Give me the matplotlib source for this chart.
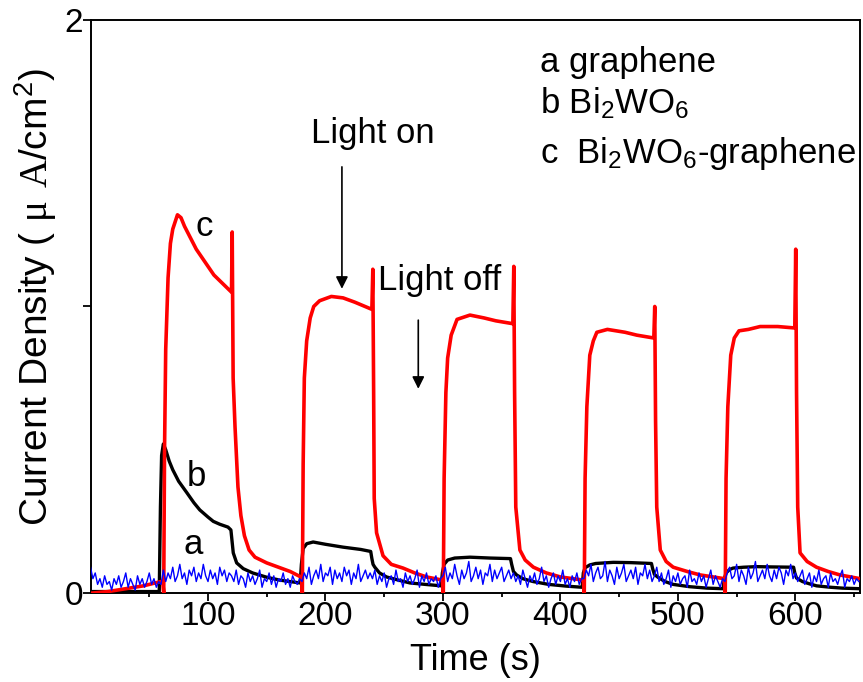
import numpy as np
import matplotlib
matplotlib.use('Agg')
import matplotlib.pyplot as plt

plt.rcParams['font.family'] = ['Liberation Sans', 'DejaVu Sans']
plt.rcParams['mathtext.fontset'] = 'custom'
plt.rcParams['mathtext.rm'] = 'Liberation Serif'
plt.rcParams['mathtext.default'] = 'regular'

# curve c: Bi2WO6-graphene (time s, current density)
red_t = [2, 15, 30, 45, 60, 61.5, 62.3, 63, 64, 66, 68, 70, 74, 77, 80, 85, 90, 95, 100, 105, 110, 115, 120,
         120.6, 121.4, 123, 125.5, 128, 131, 135, 140, 150, 160, 170, 179.5,
         180.3, 181, 182, 184, 187, 190, 195, 205, 215, 225, 239.5,
         240.3, 241, 241.5, 243.5, 249, 256, 266, 276, 286, 299.5,
         300.3, 301, 302.5, 304, 307, 312, 323, 335, 345, 359.5,
         360.3, 361, 362, 365.5, 370, 377, 388, 400, 419.5,
         420.3, 421, 422.5, 425, 428, 431, 440, 455, 465, 479.5,
         480.3, 481, 482, 485, 490, 496, 508, 519, 539.5,
         540.3, 541, 542.5, 545, 548, 552, 560, 570, 585, 599.5,
         600.3, 601, 602, 604, 610, 618, 628, 638, 655]
red_v = [0.0, 0.005, 0.015, 0.025, 0.04, 0.04, 0.0, 0.5, 0.85, 1.1, 1.22, 1.27, 1.32, 1.31, 1.28, 1.24, 1.2, 1.17, 1.14, 1.11, 1.09, 1.07, 1.05,
         1.26, 0.75, 0.58, 0.37, 0.27, 0.2, 0.15, 0.125, 0.105, 0.09, 0.075, 0.055,
         0.0, 0.45, 0.75, 0.88, 0.96, 1.0, 1.02, 1.035, 1.03, 1.015, 0.99,
         1.13, 0.7, 0.33, 0.21, 0.13, 0.1, 0.087, 0.07, 0.056, 0.045,
         0.0, 0.4, 0.7, 0.82, 0.9, 0.955, 0.97, 0.96, 0.95, 0.94,
         1.14, 0.7, 0.3, 0.15, 0.115, 0.09, 0.07, 0.056, 0.045,
         0.0, 0.4, 0.65, 0.83, 0.88, 0.91, 0.92, 0.91, 0.9, 0.89,
         1.0, 0.6, 0.3, 0.15, 0.11, 0.09, 0.075, 0.063, 0.05,
         0.0, 0.4, 0.65, 0.83, 0.89, 0.915, 0.92, 0.93, 0.93, 0.925,
         1.2, 0.7, 0.3, 0.14, 0.11, 0.09, 0.075, 0.063, 0.05]

# curve b: Bi2WO6
black_t = [0, 58.5, 59.5, 60.5, 62, 64, 67, 70, 75, 82, 88, 93, 100, 104.5, 110, 117, 119.5,
           120.5, 121.5, 124.4, 130, 138, 150, 161, 178.5,
           179.5, 181, 184, 189.5, 200, 215, 230, 238.5,
           239.5, 240.5, 242, 246, 252, 262, 272, 285, 298.5,
           299.5, 301, 304, 310, 323, 340, 357.5,
           358.5, 360, 362.7, 368, 376.7, 390, 405, 418.5,
           419.5, 421, 425, 430, 445, 460, 477.5,
           478.5, 480, 483, 489, 496, 510, 525, 538.5,
           539.5, 541, 544, 547, 556, 567, 580, 598.5,
           599.5, 601, 606, 612, 618, 630, 640, 655]
black_v = [0.005, 0.005, 0.3, 0.48, 0.52, 0.5, 0.46, 0.43, 0.39, 0.35, 0.315, 0.29, 0.265, 0.25, 0.24, 0.23, 0.22,
           0.18, 0.14, 0.105, 0.085, 0.07, 0.055, 0.045, 0.035,
           0.1, 0.155, 0.172, 0.178, 0.17, 0.16, 0.152, 0.145,
           0.12, 0.1, 0.09, 0.07, 0.056, 0.045, 0.035, 0.03, 0.025,
           0.07, 0.1, 0.115, 0.122, 0.125, 0.122, 0.12,
           0.1, 0.075, 0.063, 0.05, 0.04, 0.03, 0.024, 0.02,
           0.07, 0.088, 0.098, 0.103, 0.107, 0.106, 0.103,
           0.085, 0.065, 0.055, 0.04, 0.03, 0.022, 0.017, 0.015,
           0.05, 0.07, 0.082, 0.087, 0.09, 0.092, 0.091, 0.09,
           0.07, 0.052, 0.04, 0.032, 0.025, 0.02, 0.017, 0.015]

# curve a: graphene, sampled every 2 s
blue_step = 2
blue_v = [0.09, 0.05, 0.07, 0.03, 0.05, 0.02, 0.06, 0.03, 0.04, 0.01, 0.05, 0.03, 0.06, 0.02, 0.04, 0.07, 0.02, 0.05, 0.03, 0.01, 0.06, 0.03, 0.05, 0.02, 0.04, 0.07, 0.03, 0.05, 0.02, 0.04,
          0.03, 0.08, 0.04, 0.07, 0.05, 0.09, 0.04, 0.06, 0.10, 0.05, 0.07, 0.03, 0.08, 0.06, 0.09, 0.04, 0.07, 0.05, 0.10, 0.06, 0.04, 0.08, 0.05, 0.07, 0.03, 0.09, 0.06, 0.08, 0.04, 0.07,
          0.06, 0.04, 0.08, 0.03, 0.06, 0.05, 0.02, 0.07, 0.04, 0.06, 0.03, 0.05, 0.08, 0.02, 0.05, 0.04, 0.07, 0.03, 0.06, 0.02, 0.05, 0.04, 0.07, 0.03, 0.05, 0.02, 0.06, 0.04, 0.03, 0.05,
          0.04, 0.07, 0.05, 0.09, 0.03, 0.06, 0.08, 0.05, 0.10, 0.04, 0.07, 0.06, 0.09, 0.03, 0.08, 0.05, 0.07, 0.04, 0.09, 0.06, 0.08, 0.03, 0.07, 0.05, 0.10, 0.04, 0.06, 0.08, 0.05, 0.07,
          0.05, 0.08, 0.03, 0.06, 0.04, 0.07, 0.02, 0.05, 0.06, 0.03, 0.08, 0.04, 0.05, 0.02, 0.07, 0.04, 0.06, 0.03, 0.05, 0.08, 0.02, 0.06, 0.04, 0.07, 0.03, 0.05, 0.04, 0.06, 0.02, 0.05,
          0.06, 0.09, 0.04, 0.07, 0.05, 0.10, 0.06, 0.03, 0.08, 0.05, 0.07, 0.11, 0.04, 0.06, 0.09, 0.05, 0.08, 0.03, 0.07, 0.06, 0.10, 0.04, 0.08, 0.05, 0.07, 0.09, 0.04, 0.06, 0.08, 0.05,
          0.07, 0.04, 0.06, 0.03, 0.08, 0.05, 0.02, 0.06, 0.04, 0.07, 0.03, 0.05, 0.09, 0.04, 0.06, 0.02, 0.05, 0.07, 0.03, 0.06, 0.04, 0.08, 0.03, 0.05, 0.02, 0.06, 0.04, 0.07, 0.03, 0.05,
          0.05, 0.08, 0.06, 0.10, 0.04, 0.07, 0.09, 0.05, 0.06, 0.11, 0.04, 0.08, 0.06, 0.03, 0.09, 0.05, 0.07, 0.10, 0.04, 0.06, 0.08, 0.05, 0.09, 0.03, 0.07, 0.06, 0.10, 0.05, 0.08, 0.04,
          0.06, 0.09, 0.04, 0.07, 0.03, 0.05, 0.08, 0.02, 0.06, 0.04, 0.07, 0.03, 0.05, 0.06, 0.02, 0.08, 0.04, 0.05, 0.03, 0.07, 0.04, 0.06, 0.02, 0.05, 0.08, 0.03, 0.06, 0.04, 0.02, 0.05,
          0.04, 0.07, 0.09, 0.05, 0.06, 0.10, 0.04, 0.08, 0.06, 0.03, 0.09, 0.05, 0.07, 0.11, 0.04, 0.06, 0.08, 0.05, 0.10, 0.06, 0.04, 0.08, 0.05, 0.09, 0.07, 0.03, 0.08, 0.06, 0.10, 0.05,
          0.07, 0.04, 0.06, 0.08, 0.03, 0.05, 0.07, 0.02, 0.06, 0.04, 0.08, 0.03, 0.05, 0.06, 0.02, 0.07, 0.04, 0.05, 0.03, 0.06, 0.08, 0.02, 0.05, 0.04, 0.06, 0.03, 0.05, 0.04]
blue_t = np.arange(len(blue_v)) * blue_step

x_major = [100, 200, 300, 400, 500, 600]
x_minor = [50, 150, 250, 350, 450, 550, 650]
y_ticks = [0, 1, 2]
y_labels = ['0', '', '2']

fig = plt.figure(figsize=(8.63, 6.82), dpi=100)
ax = fig.add_axes([0.1049, 0.1305, 0.8916, 0.8402])

ax.plot(black_t, black_v, color='black', lw=2.4, zorder=2)
ax.plot(red_t, red_v, color='#ff0000', lw=2.6, zorder=3)
ax.plot(blue_t, blue_v, color='#0000ff', lw=1.0, zorder=4)

ax.set_xlim(0, 655)
ax.set_ylim(0, 2)
ax.set_xticks(x_major)
ax.set_xticks(x_minor, minor=True)
ax.set_yticks(y_ticks)
ax.set_yticklabels(y_labels)
ax.tick_params(which='major', direction='out', length=5.5, width=1.3, labelsize=24, pad=0)
ax.tick_params(which='minor', direction='out', length=3, width=1.3)
for s in ax.spines.values():
    s.set_linewidth(1.4)

ax.set_xlabel('Time (s)', fontsize=26, labelpad=8)
ax.set_ylabel(r'Current Density ( $\mathrm{\mu\ A}$/cm$^2$)', fontsize=28)
ax.yaxis.set_label_coords(-0.041, 0.517)

ax.text(97, 1.28, 'c', fontsize=25, ha='center', va='center')
ax.text(90, 0.405, 'b', fontsize=25, ha='center', va='center')
ax.text(87, 0.168, 'a', fontsize=25, ha='center', va='center')

ax.text(383, 1.818, 'a graphene', fontsize=25, ha='left', va='baseline')
ax.text(383, 1.675, 'b Bi$_2$WO$_6$', fontsize=25, ha='left', va='baseline')
ax.text(383, 1.50, 'c  Bi$_2$WO$_6$-graphene', fontsize=25, ha='left', va='baseline')

ax.text(240, 1.605, 'Light on', fontsize=25, ha='center', va='center')
ax.annotate('', xy=(214, 1.052), xytext=(214, 1.497),
            arrowprops=dict(arrowstyle='-|>', color='black', lw=1.2, mutation_scale=18))
ax.text(297, 1.09, 'Light off', fontsize=25, ha='center', va='center')
ax.annotate('', xy=(279, 0.703), xytext=(279, 0.962),
            arrowprops=dict(arrowstyle='-|>', color='black', lw=1.2, mutation_scale=18))

fig.savefig('out.png', dpi=100, facecolor='white')
